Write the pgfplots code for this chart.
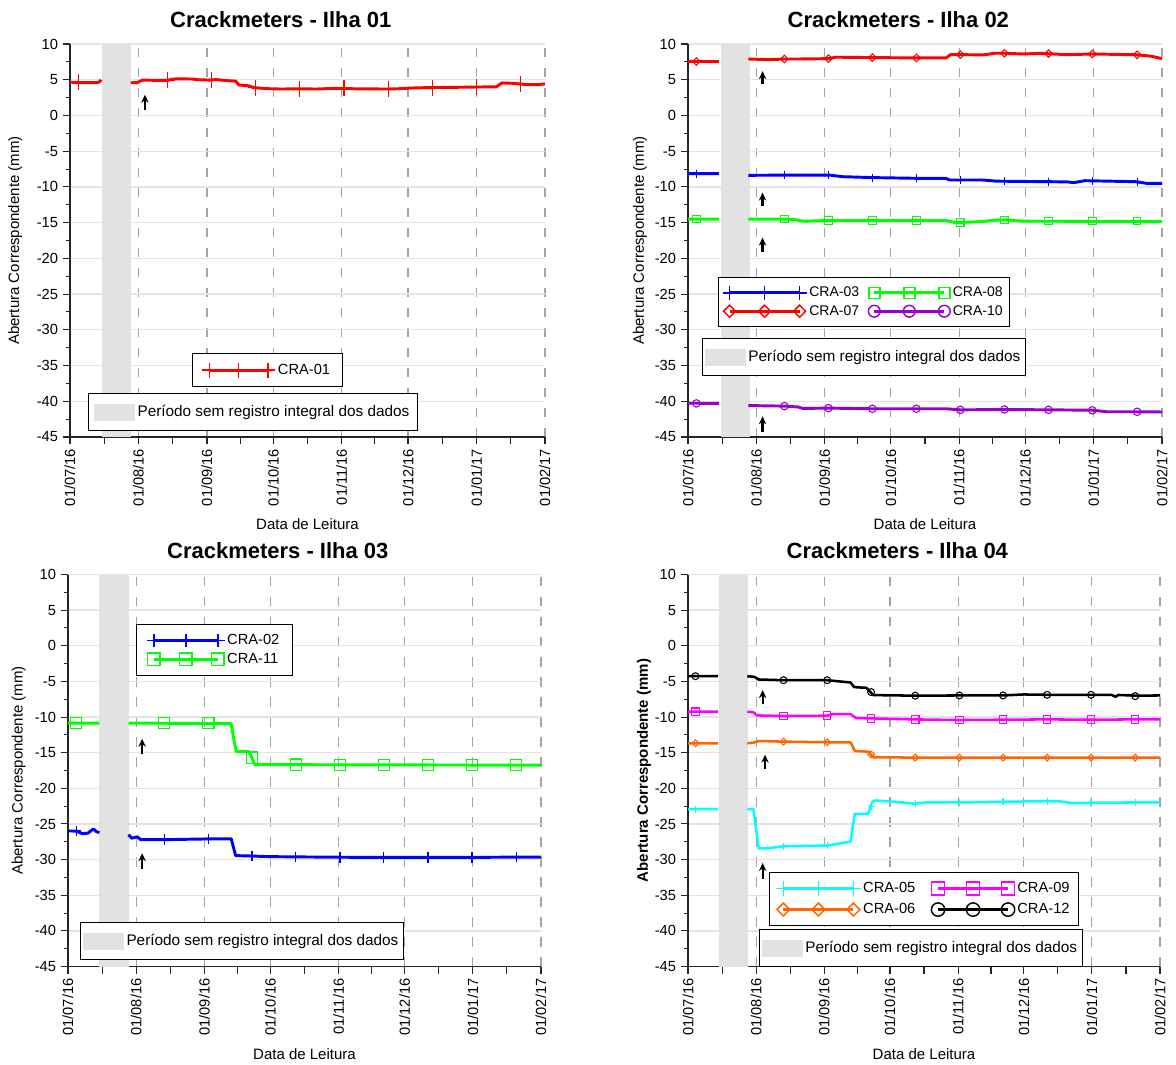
\documentclass[border=0pt]{standalone}
\usepackage{fontspec}
\setmainfont{Liberation Sans}
\usepackage{pgfplots}
\pgfplotsset{compat=1.18}
\usetikzlibrary{arrows.meta}
\definecolor{bandgray}{RGB}{226,226,226}
\definecolor{vgrid}{RGB}{165,165,165}
\definecolor{hgrid}{RGB}{228,228,228}
\definecolor{cpurple}{RGB}{153,0,204}
\definecolor{corange}{RGB}{255,102,0}
\definecolor{cgreen}{RGB}{0,255,0}
\definecolor{ccyan}{RGB}{0,255,255}
\definecolor{cmag}{RGB}{255,0,255}

\pgfplotsset{
 crack/.style={
  scale only axis,
  anchor=south west,
  xmin=0, xmax=215, ymin=-45, ymax=10,
  axis lines*=left,
  axis line style={black!85, line width=0.9pt},
  xtick={0,31,62,92,123,153,184,215},
  xticklabels={01/07/16,01/08/16,01/09/16,01/10/16,01/11/16,01/12/16,01/01/17,01/02/17},
  extra x ticks={15.5,46.5,77,107.5,138,168.5,199.5},
  extra x tick labels={},
  extra x tick style={grid=none},
  ytick={-45,-40,...,10},
  yticklabels={-45,-40,-35,-30,-25,-20,-15,-10,-5,0,5,10},
  minor ytick={-42.5,-37.5,...,7.5},
  tick align=outside,
  major tick length=5.5pt, minor tick length=3pt,
  tick style={black!85, line width=0.8pt},
  xmajorgrids, ymajorgrids,
  x grid style={vgrid, dash pattern=on 7pt off 8pt, line width=0.8pt},
  y grid style={hgrid, line width=1pt},
  xticklabel style={rotate=90, anchor=east, font=\fontsize{11}{13}\selectfont},
  yticklabel style={font=\fontsize{11}{13}\selectfont},
  xlabel={Data de Leitura},
  ylabel={Abertura Correspondente (mm)},
  label style={font=\fontsize{11.25}{13}\selectfont},
  xlabel style={at={(0.5,0)}, anchor=center, yshift=-65.5pt},
  title style={font=\fontsize{16.5}{19}\selectfont\bfseries, at={(0.5,1)}, anchor=base, yshift=6pt, xshift=-20pt},
  unbounded coords=jump,
  legend style={draw=black, line width=0.75pt, fill=white, font=\fontsize{11}{13}\selectfont,
    anchor=north west, inner xsep=3pt, inner ysep=5pt, row sep=1pt,
    nodes={inner sep=2pt},
    /tikz/every even column/.append style={column sep=5pt}},
  legend cell align=left,
 },
 bandleg/.style={
  scale only axis, anchor=south west, hide axis,
  xmin=0, xmax=1, ymin=0, ymax=1,
  legend style={draw=black, line width=0.75pt, fill=white, font=\fontsize{11.5}{14}\selectfont,
    anchor=north west, inner xsep=1.75pt, inner ysep=7pt, nodes={inner sep=2pt}},
 },
 band/.style={fill=bandgray, draw=none, forget plot},
 ser/.style={line width=2.2pt, no marks, forget plot, line join=round},
 mk/.style={only marks, forget plot},
 leg/.style={line width=2.2pt, legend image code/.code={\draw plot coordinates {(0pt,0pt) (26.25pt,0pt) (52.5pt,0pt)};}},
 bandimg/.style={legend image code/.code={\fill[bandgray] (0pt,-6pt) rectangle (30pt,6pt);}},
}
\newcommand{\uparr}[3]{\draw[-{Stealth[length=6pt,width=5.5pt]}, line width=1.7pt, black] (axis cs:#1,#2) -- (axis cs:#1,#3);}

\begin{document}
\begin{tikzpicture}
\useasboundingbox (0,0) rectangle (882pt,798pt);

% ---------------- Plot 1
\begin{axis}[crack, at={(52.5pt,470.25pt)}, width=356.25pt, height=294.75pt,
  title={Crackmeters - Ilha 01}, ylabel style={at={(0,0.5)}, anchor=center, yshift=41pt},
  legend style={at={(0.257,0.214)}, inner xsep=7pt, inner ysep=6pt}]
\addplot[band] coordinates {(14.5,-45) (14.5,10) (27.5,10) (27.5,-45)};
\addplot[ser, red] coordinates {(0,4.65) (6,4.6) (12.5,4.6) (13.5,4.75) (14,5.0) (14.5,nan)
 (27.4,4.57) (30.5,4.6) (32,4.85) (33,4.95) (40,4.9) (44,4.9) (46,5.05) (48,5.12) (55,5.1) (58,5.0)
 (63,4.95) (66,5.02) (70,4.9) (75,4.8) (76.5,4.25) (81,4.15) (83,3.9) (89,3.75) (95,3.7) (104,3.72)
 (112,3.7) (120,3.8) (124,3.78) (130,3.72) (144,3.7) (150,3.75) (154,3.83) (162,3.9) (170,3.92)
 (178,3.95) (184,3.98) (193,4.0) (195.5,4.55) (200,4.5) (204,4.4) (207,4.3) (212,4.32) (215,4.42)};
\addplot[mk, red, mark=+, mark size=6pt, mark options={line width=0.9pt}] coordinates {(4,4.62) (44,4.9) (64,4.95) (84,3.88) (104,3.72) (124,3.78) (144,3.7) (164,3.9) (184,3.98) (204,4.4)};
\addlegendimage{red, line width=2.2pt, mark=+, mark size=5.5pt, mark options={line width=1.1pt},
  legend image code/.code={\draw plot coordinates {(0pt,0pt) (22pt,0pt) (44pt,0pt)};}}
\addlegendentry{CRA-01}
\uparr{33.9}{0.7}{2.9}
\end{axis}
\begin{axis}[bandleg, at={(52.5pt,470.25pt)}, width=356.25pt, height=294.75pt, legend style={at={(0.038,0.112)}, inner xsep=4pt}]
\addlegendimage{bandimg}
\addlegendentry{Período sem registro integral dos dados}
\end{axis}

% ---------------- Plot 2
\begin{axis}[crack, at={(516pt,470.25pt)}, width=355.5pt, height=294.75pt,
  title={Crackmeters - Ilha 02}, ylabel style={at={(0,0.5)}, anchor=center, yshift=36pt},
  legend columns=2, legend style={at={(0.0633,0.407)}, font=\fontsize{10.5}{13}\selectfont}]
\addplot[band] coordinates {(15.1,-45) (15.1,10) (27.9,10) (27.9,-45)};
\addplot[ser, red] coordinates {(0,7.55) (14,7.55) (14.5,nan) (27.4,7.9) (37,7.8) (43.7,7.9) (50,7.9)
 (63.7,7.95) (67,8.15) (83.6,8.1) (103.6,8.05) (117,8.05) (119,8.5) (127,8.5) (134,8.47) (139,8.7)
 (143.5,8.7) (152,8.6) (160,8.7) (171.8,8.5) (183.4,8.6) (203,8.5) (210,8.3) (215,7.95)};
\addplot[mk, red, mark=square, mark size=2pt, mark options={line width=0.8pt, rotate=45}] coordinates {(3.8,7.55) (43.7,7.9) (63.7,7.95) (83.6,8.1) (103.6,8.05) (123.5,8.5) (143.5,8.7) (163.5,8.65) (183.4,8.6) (203.7,8.48)};
\addplot[ser, blue] coordinates {(0,-8.15) (14,-8.15) (14.5,nan) (27.4,-8.38) (44,-8.35) (64,-8.34)
 (70,-8.57) (84,-8.7) (104,-8.8) (117,-8.8) (118.6,-9.03) (133.5,-9.03) (140,-9.2) (164,-9.27)
 (172,-9.3) (175,-9.4) (180,-9.13) (203,-9.27) (208,-9.5) (215,-9.5)};
\addplot[mk, blue, mark=+, mark size=3pt, mark options={line width=0.9pt}] coordinates {(3.8,-8.15) (43.7,-8.35) (63.7,-8.34) (83.6,-8.7) (103.6,-8.8) (123.5,-9.03) (143.5,-9.2) (163.5,-9.27) (183.4,-9.15) (203.7,-9.3)};
\addplot[ser, cgreen] coordinates {(0,-14.5) (14,-14.5) (14.5,nan) (27.4,-14.5) (44,-14.5) (49,-14.6)
 (52,-14.8) (64,-14.7) (117,-14.7) (121,-14.98) (126,-14.95) (133.5,-14.84) (140,-14.65) (145,-14.62)
 (152,-14.8) (215,-14.84)};
\addplot[mk, cgreen, mark=square, mark size=2.8pt, mark options={line width=0.8pt}] coordinates {(3.8,-14.5) (43.7,-14.5) (63.7,-14.7) (83.6,-14.7) (103.6,-14.7) (123.5,-14.98) (143.5,-14.6) (163.5,-14.78) (183.4,-14.78) (203.7,-14.78)};
\addplot[ser, cpurple] coordinates {(0,-40.27) (14,-40.3) (14.5,nan) (27.4,-40.6) (44,-40.68) (50,-40.8)
 (52,-41.0) (64,-40.96) (84,-41.05) (117,-41.05) (123.5,-41.2) (144,-41.15) (164,-41.2) (183.4,-41.25)
 (190,-41.47) (203,-41.47) (215,-41.5)};
\addplot[mk, cpurple, mark=o, mark size=2.8pt, mark options={line width=0.8pt}] coordinates {(3.8,-40.3) (43.7,-40.68) (63.7,-40.96) (83.6,-41.05) (103.6,-41.05) (123.5,-41.2) (143.5,-41.15) (163.5,-41.2) (183.4,-41.27) (203.7,-41.47)};
\addlegendimage{leg, blue, mark=+, mark size=5.3pt, mark options={line width=1.1pt}}
\addlegendentry{CRA-03}
\addlegendimage{leg, cgreen, mark=square, mark size=4.1pt, mark options={line width=1.1pt}}
\addlegendentry{CRA-08}
\addlegendimage{leg, red, mark=square, mark size=3.2pt, mark options={line width=1.1pt, rotate=45}}
\addlegendentry{CRA-07}
\addlegendimage{leg, cpurple, mark=o, mark size=4.4pt, mark options={line width=1.1pt}}
\addlegendentry{CRA-10}
\uparr{33.8}{4.34}{6.2}
\uparr{33.8}{-12.66}{-10.8}
\uparr{33.8}{-19.06}{-17.1}
\uparr{33.8}{-44.26}{-42.1}
\end{axis}
\begin{axis}[bandleg, at={(516pt,470.25pt)}, width=355.5pt, height=294.75pt, legend style={at={(0.0295,0.252)}}]
\addlegendimage{bandimg}
\addlegendentry{Período sem registro integral dos dados}
\end{axis}

% ---------------- Plot 3
\begin{axis}[crack, at={(51pt,73.125pt)}, width=354.75pt, height=294pt,
  title={Crackmeters - Ilha 03}, ylabel style={at={(0,0.5)}, anchor=center, yshift=37pt},
  legend style={at={(0.1438,0.874)}, inner xsep=8pt, inner ysep=5.5pt}]
\addplot[band] coordinates {(14.1,-45) (14.1,10) (27.9,10) (27.9,-45)};
\addplot[ser, cgreen] coordinates {(0,-10.84) (14.3,-10.84) (14.8,nan) (27.5,-10.84) (74.2,-10.93)
 (75.3,-13) (76.5,-14.86) (82.3,-14.86) (83.6,-15.7) (84.8,-16.64) (100,-16.68) (130,-16.7) (160,-16.72) (215,-16.75)};
\addplot[mk, cgreen, mark=square, mark size=4.2pt, mark options={line width=0.9pt}] coordinates {(3.7,-10.84) (43.7,-10.84) (63.8,-10.84) (83.6,-15.7) (103.5,-16.68) (123.6,-16.7) (143.5,-16.72) (163.6,-16.72) (183.6,-16.73) (203.7,-16.73)};
\addplot[ser, blue] coordinates {(0,-25.98) (3.7,-26.0) (6.5,-26.36) (9,-26.3) (11.5,-25.7) (13,-26.1)
 (14.3,-26.2) (14.8,nan) (27.5,-26.5) (29,-27.0) (31.5,-26.8) (33,-27.2) (43.7,-27.2) (63.8,-27.1)
 (74.2,-27.1) (76.2,-29.44) (83.6,-29.5) (90.7,-29.58) (103.5,-29.62) (120,-29.66) (130,-29.68)
 (150,-29.7) (170,-29.7) (190,-29.68) (203.7,-29.65) (215,-29.65)};
\addplot[mk, blue, mark=+, mark size=4pt, mark options={line width=0.9pt}] coordinates {(3.7,-26.0) (43.7,-27.2) (63.8,-27.1) (83.6,-29.5) (103.5,-29.62) (123.6,-29.66) (143.5,-29.7) (163.6,-29.7) (183.6,-29.68) (203.7,-29.65)};
\addlegendimage{leg, blue, mark=+, mark size=5pt, mark options={line width=1.1pt},
  legend image code/.code={\draw plot coordinates {(0pt,0pt) (24pt,0pt) (48pt,0pt)};}}
\addlegendentry{CRA-02}
\addlegendimage{leg, cgreen, mark=square, mark size=4.7pt, mark options={line width=1.1pt},
  legend image code/.code={\draw plot coordinates {(0pt,0pt) (24pt,0pt) (48pt,0pt)};}}
\addlegendentry{CRA-11}
\uparr{33.7}{-15.14}{-13.04}
\uparr{33.7}{-31.3}{-29.1}
\end{axis}
\begin{axis}[bandleg, at={(51pt,73.125pt)}, width=354.75pt, height=294pt, legend style={at={(0.0254,0.1135)}}]
\addlegendimage{bandimg}
\addlegendentry{Período sem registro integral dos dados}
\end{axis}

% ---------------- Plot 4
\begin{axis}[crack, at={(516pt,73.125pt)}, width=354pt, height=294pt,
  title={Crackmeters - Ilha 04}, ylabel style={font=\fontsize{11.25}{13}\selectfont\bfseries, at={(0,0.5)}, anchor=center, yshift=33pt},
  legend columns=2, legend style={at={(0.1716,0.241)}, inner xsep=5pt, inner ysep=5.5pt, row sep=2.5pt,
    /tikz/every even column/.append style={column sep=10pt}}]
\addplot[band] coordinates {(14,-45) (14,10) (27.4,10) (27.4,-45)};
\addplot[ser, line width=1.9pt, black] coordinates {(0,-4.27) (13.7,-4.27) (14.2,nan) (27,-4.27) (30.3,-4.36)
 (32.2,-4.73) (43.5,-4.83) (63.4,-4.83) (74,-5.15) (75.7,-5.8) (81.3,-5.9) (83,-6.46) (84.5,-6.92)
 (103,-7.0) (123.6,-6.97) (143.5,-6.97) (153,-6.83) (163.6,-6.88) (193,-6.9) (194.8,-7.15) (196,-6.9)
 (203.7,-7.0) (215,-6.97)};
\addplot[mk, black, mark=o, mark size=2.6pt, mark options={line width=0.8pt}] coordinates {(3.4,-4.27) (43.5,-4.83) (63.4,-4.83) (83.4,-6.5) (103.5,-7.0) (123.6,-6.97) (143.5,-6.97) (163.6,-6.88) (183.6,-6.88) (203.7,-7.06)};
\addplot[ser, line width=1.9pt, cmag] coordinates {(0,-9.25) (13.7,-9.25) (14.2,nan) (27,-9.25) (29.8,-9.33)
 (31.4,-9.77) (43.5,-9.86) (63.4,-9.81) (66,-9.58) (74,-9.58) (76.5,-10.14) (83.4,-10.19) (103.5,-10.33)
 (123.6,-10.42) (143.5,-10.37) (163.6,-10.33) (183.6,-10.37) (203.7,-10.33) (215,-10.33)};
\addplot[mk, cmag, mark=square, mark size=2.8pt, mark options={line width=0.8pt}] coordinates {(3.4,-9.25) (43.5,-9.86) (63.4,-9.81) (83.4,-10.19) (103.5,-10.33) (123.6,-10.42) (143.5,-10.37) (163.6,-10.33) (183.6,-10.37) (203.7,-10.33)};
\addplot[ser, line width=1.9pt, corange] coordinates {(0,-13.68) (13.7,-13.68) (14.2,nan) (27,-13.68) (29.8,-13.6)
 (32.2,-13.36) (43.5,-13.45) (63.4,-13.54) (74,-13.54) (76,-14.76) (81.8,-14.85) (82.5,-14.9) (84.3,-15.64)
 (103.5,-15.69) (215,-15.69)};
\addplot[mk, corange, mark=square, mark size=1.8pt, mark options={line width=0.8pt, rotate=45}] coordinates {(3.4,-13.68) (43.5,-13.45) (63.4,-13.54) (83.4,-15.25) (103.5,-15.69) (123.6,-15.69) (143.5,-15.69) (163.6,-15.69) (183.6,-15.69) (203.7,-15.69)};
\addplot[ser, line width=1.9pt, ccyan] coordinates {(0,-22.91) (13.7,-22.91) (14.2,nan) (27,-22.91) (29.8,-22.91)
 (32.2,-28.41) (37,-28.41) (43.5,-28.13) (63.4,-28.04) (74,-27.48) (76,-23.57) (82,-23.57) (84,-21.84)
 (85.3,-21.7) (98,-21.98) (103,-22.17) (108,-21.98) (123.6,-21.98) (143.5,-21.89) (163.6,-21.8) (170,-21.85)
 (175,-22.07) (183.6,-22.02) (203.7,-21.98) (215,-21.98)};
\addplot[mk, ccyan, mark=+, mark size=2.6pt, mark options={line width=0.9pt}] coordinates {(3.4,-22.91) (43.5,-28.13) (63.4,-28.04) (83.4,-22.6) (103.5,-22.17) (123.6,-21.98) (143.5,-21.89) (163.6,-21.8) (183.6,-22.02) (203.7,-21.98)};
\addlegendimage{leg, line width=1.9pt, ccyan, mark=+, mark size=5.4pt, mark options={line width=1.1pt}}
\addlegendentry{CRA-05}
\addlegendimage{leg, line width=1.9pt, cmag, mark=square, mark size=4.9pt, mark options={line width=1.1pt}}
\addlegendentry{CRA-09}
\addlegendimage{leg, line width=1.9pt, corange, mark=square, mark size=3.4pt, mark options={line width=1.1pt, rotate=45}}
\addlegendentry{CRA-06}
\addlegendimage{leg, line width=1.9pt, black, mark=o, mark size=5pt, mark options={line width=1.1pt}}
\addlegendentry{CRA-12}
\uparr{34}{-8.18}{-6.22}
\uparr{35.1}{-17.32}{-15.27}
\uparr{34}{-32.7}{-30.47}
\end{axis}
\begin{axis}[bandleg, at={(516pt,73.125pt)}, width=354pt, height=294pt, legend style={at={(0.150,0.0957)}}]
\addlegendimage{bandimg}
\addlegendentry{Período sem registro integral dos dados}
\end{axis}

\end{tikzpicture}
\end{document}
